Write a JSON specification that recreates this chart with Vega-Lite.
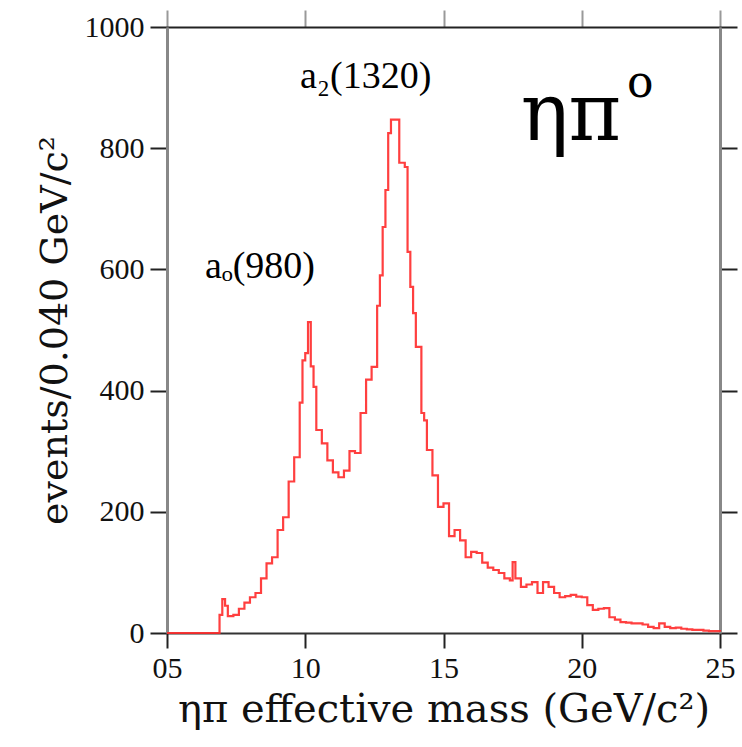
{
  "$schema": "https://vega.github.io/schema/vega-lite/v6.json",
  "width": 553,
  "height": 606,
  "autosize": "none",
  "padding": {"left": 167, "top": 27, "right": 22, "bottom": 114},
  "background": "white",
  "config": {
    "view": {"stroke": null},
    "font": "Liberation Serif",
    "axis": {"grid": false, "labelFont": "Liberation Serif", "titleFont": "DejaVu Serif", "labelColor": "#111", "titleColor": "#111", "titleFontWeight": "normal", "tickColor": "#222", "tickWidth": 2, "domainWidth": 2}
  },
  "datasets": {
    "hist": [
      {"m": 0.50, "n": 0}, {"m": 0.52, "n": 0}, {"m": 0.54, "n": 0}, {"m": 0.56, "n": 0},
      {"m": 0.58, "n": 0}, {"m": 0.60, "n": 0}, {"m": 0.62, "n": 0}, {"m": 0.64, "n": 0},
      {"m": 0.66, "n": 0}, {"m": 0.68, "n": 0}, {"m": 0.69, "n": 30}, {"m": 0.70, "n": 56},
      {"m": 0.71, "n": 45}, {"m": 0.72, "n": 28}, {"m": 0.74, "n": 30}, {"m": 0.76, "n": 40},
      {"m": 0.78, "n": 50}, {"m": 0.80, "n": 59}, {"m": 0.82, "n": 66}, {"m": 0.84, "n": 90},
      {"m": 0.86, "n": 115}, {"m": 0.88, "n": 125}, {"m": 0.90, "n": 170}, {"m": 0.92, "n": 191},
      {"m": 0.94, "n": 250}, {"m": 0.96, "n": 290}, {"m": 0.98, "n": 380}, {"m": 0.99, "n": 450},
      {"m": 1.00, "n": 462}, {"m": 1.01, "n": 513}, {"m": 1.02, "n": 440}, {"m": 1.03, "n": 406},
      {"m": 1.04, "n": 335}, {"m": 1.06, "n": 313}, {"m": 1.08, "n": 285}, {"m": 1.10, "n": 265},
      {"m": 1.12, "n": 257}, {"m": 1.14, "n": 268}, {"m": 1.16, "n": 300}, {"m": 1.18, "n": 297},
      {"m": 1.20, "n": 363}, {"m": 1.22, "n": 418}, {"m": 1.24, "n": 439}, {"m": 1.26, "n": 540},
      {"m": 1.27, "n": 590}, {"m": 1.28, "n": 670}, {"m": 1.29, "n": 731}, {"m": 1.30, "n": 825},
      {"m": 1.31, "n": 847}, {"m": 1.33, "n": 847}, {"m": 1.34, "n": 776}, {"m": 1.36, "n": 769},
      {"m": 1.37, "n": 629}, {"m": 1.38, "n": 571}, {"m": 1.39, "n": 528}, {"m": 1.40, "n": 472},
      {"m": 1.42, "n": 363}, {"m": 1.43, "n": 351}, {"m": 1.44, "n": 302}, {"m": 1.46, "n": 260},
      {"m": 1.48, "n": 208}, {"m": 1.50, "n": 214}, {"m": 1.52, "n": 160}, {"m": 1.54, "n": 170},
      {"m": 1.56, "n": 153}, {"m": 1.58, "n": 125}, {"m": 1.60, "n": 134}, {"m": 1.62, "n": 132},
      {"m": 1.64, "n": 116}, {"m": 1.66, "n": 108}, {"m": 1.68, "n": 104}, {"m": 1.70, "n": 99},
      {"m": 1.72, "n": 90}, {"m": 1.74, "n": 87}, {"m": 1.75, "n": 117}, {"m": 1.76, "n": 90},
      {"m": 1.78, "n": 76}, {"m": 1.80, "n": 80}, {"m": 1.82, "n": 84}, {"m": 1.84, "n": 66},
      {"m": 1.86, "n": 84}, {"m": 1.88, "n": 76}, {"m": 1.90, "n": 66}, {"m": 1.92, "n": 59},
      {"m": 1.94, "n": 61}, {"m": 1.96, "n": 63}, {"m": 1.98, "n": 60}, {"m": 2.00, "n": 59},
      {"m": 2.02, "n": 46}, {"m": 2.04, "n": 38}, {"m": 2.06, "n": 40}, {"m": 2.08, "n": 41},
      {"m": 2.10, "n": 26}, {"m": 2.12, "n": 22}, {"m": 2.14, "n": 18}, {"m": 2.16, "n": 17},
      {"m": 2.18, "n": 16}, {"m": 2.20, "n": 16}, {"m": 2.22, "n": 14}, {"m": 2.24, "n": 10},
      {"m": 2.26, "n": 8}, {"m": 2.28, "n": 16}, {"m": 2.30, "n": 10}, {"m": 2.32, "n": 8},
      {"m": 2.34, "n": 9}, {"m": 2.36, "n": 7}, {"m": 2.38, "n": 6}, {"m": 2.40, "n": 5},
      {"m": 2.42, "n": 5}, {"m": 2.44, "n": 4}, {"m": 2.46, "n": 3}, {"m": 2.48, "n": 3},
      {"m": 2.50, "n": 2}
    ],
    "peaks": [
      {"m": 0.981, "n": 899, "label": "a₂(1320)"},
      {"m": 0.637, "n": 586, "label": "aₒ(980)"}
    ],
    "channel": [
      {"m": 1.779, "n": 813, "label": "ηπ"}
    ],
    "charge": [
      {"m": 2.164, "n": 884, "label": "o"}
    ]
  },
  "layer": [
    {
      "data": {"name": "hist"},
      "mark": {"type": "line", "interpolate": "step-after", "color": "#ff2a2a", "strokeWidth": 2.2, "opacity": 0.9},
      "encoding": {
        "x": {"field": "m", "type": "quantitative", "scale": {"domain": [0.5, 2.5], "nice": false, "zero": false}, "axis": {"orient": "bottom", "values": [0.5, 1.0, 1.5, 2.0, 2.5], "labelExpr": "replace(format(datum.value, '.1f'), '.', '')", "labelFlush": false, "labelFontSize": 30, "tickSize": 15, "labelPadding": 5, "title": "ηπ effective mass (GeV/c²)", "titleFontSize": 40, "titlePadding": 6, "domainColor": "#333"}},
        "y": {"field": "n", "type": "quantitative", "scale": {"domain": [0, 1000], "nice": false}, "axis": {"orient": "left", "values": [0, 200, 400, 600, 800, 1000], "format": "d", "labelFlush": false, "labelFontSize": 30, "tickSize": 17, "labelPadding": 6, "title": "events/0.040 GeV/c²", "titleFontSize": 38, "titlePadding": 10, "domainColor": "#888", "domainWidth": 3}}
      }
    },
    {
      "data": {"name": "hist"},
      "mark": {"type": "line", "opacity": 0},
      "encoding": {
        "x": {"field": "m", "type": "quantitative", "axis": {"orient": "top", "values": [0.5, 1.0, 1.5, 2.0, 2.5], "labels": false, "tickSize": 17, "title": null, "domainColor": "#222", "tickColor": "#999"}},
        "y": {"field": "n", "type": "quantitative", "axis": {"orient": "right", "values": [0, 200, 400, 600, 800, 1000], "labels": false, "tickSize": 17, "title": null, "domainColor": "#888", "domainWidth": 3}}
      }
    },
    {
      "data": {"name": "peaks"},
      "mark": {"type": "text", "align": "left", "baseline": "alphabetic", "color": "#000", "font": "Liberation Serif", "fontSize": 38},
      "encoding": {
        "x": {"field": "m", "type": "quantitative", "axis": null},
        "y": {"field": "n", "type": "quantitative", "axis": null},
        "text": {"field": "label"}
      }
    },
    {
      "data": {"name": "channel"},
      "mark": {"type": "text", "align": "left", "baseline": "alphabetic", "color": "#000", "font": "DejaVu Serif", "fontSize": 80},
      "encoding": {
        "x": {"field": "m", "type": "quantitative", "axis": null},
        "y": {"field": "n", "type": "quantitative", "axis": null},
        "text": {"field": "label"}
      }
    },
    {
      "data": {"name": "charge"},
      "mark": {"type": "text", "align": "left", "baseline": "alphabetic", "color": "#000", "font": "DejaVu Serif", "fontSize": 44},
      "encoding": {
        "x": {"field": "m", "type": "quantitative", "axis": null},
        "y": {"field": "n", "type": "quantitative", "axis": null},
        "text": {"field": "label"}
      }
    }
  ]
}
